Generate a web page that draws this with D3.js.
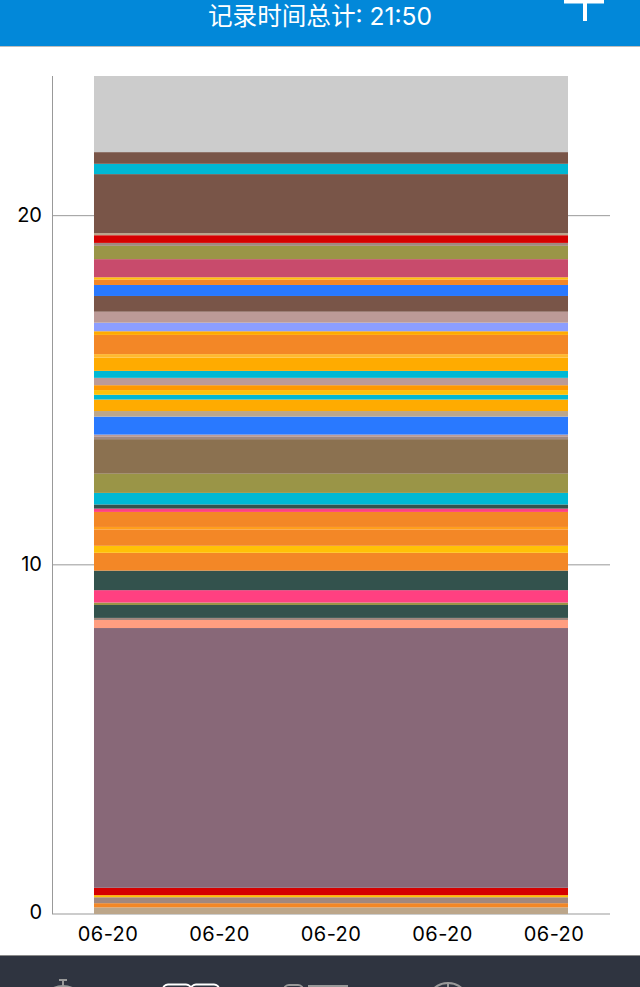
<!DOCTYPE html>
<html>
<head>
<meta charset="utf-8">
<script src="https://cdnjs.cloudflare.com/ajax/libs/d3/7.8.5/d3.min.js"></script>
<style>
  html, body { margin: 0; padding: 0; background: #fff; }
  svg { display: block; }
  text { font-family: Inter, "Noto Sans CJK SC", sans-serif; }
</style>
</head>
<body>
<svg id="chart" width="640" height="987"></svg>
<script>
// hours per band, bottom of the stack first
const bandHours = [
  0.19, 0.12, 0.17, 0.06, 0.21, 7.44, 0.23, 0.06, 0.37, 0.07,
  0.355, 0.56, 0.51, 0.20, 0.47, 0.07, 0.43, 0.095, 0.12, 0.33,
  0.55, 0.99, 0.08, 0.05, 0.515, 0.16, 0.33, 0.135, 0.135, 0.14,
  0.21, 0.20, 0.38, 0.10, 0.55, 0.105, 0.245, 0.315, 0.45, 0.315,
  0.16, 0.06, 0.52, 0.38, 0.085, 0.22, 0.06, 1.69, 0.295, 0.335, 2.18
];
// colour group of each band, same order
const bandGroups = [
  "tan", "orange", "taupe", "yellow", "red", "mauve", "salmon", "taupe", "pine", "olive",
  "pink", "pine", "orange", "yellow", "orange", "lightOrange", "orange", "pink", "pine", "cyan",
  "olive", "khaki", "taupe", "rosy", "blue", "tan", "amber", "cyan", "yellow", "deepAmber",
  "rosy", "cyan", "amber", "lightAmber", "orange", "amber", "periwinkle", "rosy", "brown", "blue",
  "orange", "yellow", "rose", "olive", "taupe", "red", "tan", "brown", "cyan", "brown", "grey"
];
const groupNames = ["tan", "orange", "taupe", "yellow", "red", "mauve", "salmon", "pine", "olive", "pink",
  "lightOrange", "cyan", "khaki", "rosy", "blue", "amber", "deepAmber", "lightAmber", "periwinkle", "brown", "rose", "grey"];
const groupColors = ["#BCA68A", "#F38726", "#A1887F", "#FFC107", "#D50000", "#886878", "#FF9E80", "#33524D", "#9A9547", "#FF4081",
  "#FF9F1C", "#00B8D4", "#8B7150", "#BC9A97", "#2979FF", "#FFAB00", "#FF9800", "#FFB92E", "#8C9EFF", "#795548", "#C84B6C", "#CCCCCC"];

const xTickDays = [0, 1, 2, 3, 4];
const xTickLabel = "06-20";
const yTicks = [0, 10, 20];
const title = "记录时间总计: 21:50";

const svg = d3.select("#chart");
const margin = { left: 52, right: 610, top: 76, bottom: 914 };

const x = d3.scaleLinear().domain([0, 4]).range([108, 554]);
const y = d3.scaleLinear().domain([0, 24]).range([margin.bottom, margin.top]);
const color = d3.scaleOrdinal().domain(groupNames).range(groupColors);

// header
svg.append("rect").attr("width", 640).attr("height", 46).attr("fill", "#0288D9");
svg.append("line").attr("x1", 0).attr("x2", 640).attr("y1", 46.5).attr("y2", 46.5).attr("stroke", "#bdbdbd");
svg.append("text").attr("x", 320).attr("y", 25).attr("text-anchor", "middle")
  .attr("font-size", 24.6).attr("fill", "#fff").text(title);
svg.append("path").attr("d", "M564 1.5H604M585 0V21").attr("stroke", "#fff").attr("stroke-width", 4).attr("fill", "none");

// grid + axis lines
const axisG = svg.append("g");
axisG.selectAll("line.grid").data(yTicks).join("line").attr("class", "grid")
  .attr("x1", margin.left).attr("x2", margin.right)
  .attr("y1", (d) => y(d)).attr("y2", (d) => y(d))
  .attr("stroke", "#999");
axisG.append("line").attr("x1", margin.left + 0.5).attr("x2", margin.left + 0.5)
  .attr("y1", margin.top).attr("y2", margin.bottom).attr("stroke", "#999");

// stacked bar
const stackRow = {};
bandHours.forEach((h, i) => { stackRow[i] = h; });
const series = d3.stack().keys(bandHours.map((_, i) => i))([stackRow]);
svg.append("g").selectAll("rect").data(series).join("rect")
  .attr("x", x(-0.1256))
  .attr("width", x(4.1256) - x(-0.1256))
  .attr("y", (s) => y(s[0][1]))
  .attr("height", (s) => y(s[0][0]) - y(s[0][1]))
  .attr("fill", (s) => color(bandGroups[s.index]));

// tick labels
svg.append("g").selectAll("text").data(yTicks).join("text")
  .attr("x", 42).attr("y", (d) => y(d) + (d === 0 ? 4.5 : 6)).attr("text-anchor", "end")
  .attr("font-size", 20).attr("fill", "#000").text((d) => d);
svg.append("g").selectAll("text").data(xTickDays).join("text")
  .attr("x", (d) => x(d)).attr("y", 941).attr("text-anchor", "middle")
  .attr("font-size", 20).attr("letter-spacing", 0.4).attr("fill", "#000").text(xTickLabel);

// tab bar, cut off at the bottom of the screen
svg.append("rect").attr("y", 955).attr("width", 640).attr("height", 32).attr("fill", "#2F3440");
svg.append("line").attr("x1", 0).attr("x2", 640).attr("y1", 955.5).attr("y2", 955.5).attr("stroke", "#8a8a8a");

const tabIcons = svg.append("g").attr("fill", "none");
// stopwatch
tabIcons.append("path").attr("d", "M59 980H67M63 980V986").attr("stroke", "#999").attr("stroke-width", 2);
tabIcons.append("circle").attr("cx", 63).attr("cy", 1010).attr("r", 25).attr("fill", "#999");
// book
tabIcons.append("rect").attr("x", 163).attr("y", 984.5).attr("width", 28).attr("height", 20).attr("rx", 5)
  .attr("stroke", "#fff").attr("stroke-width", 2);
tabIcons.append("rect").attr("x", 191).attr("y", 984.5).attr("width", 28).attr("height", 20).attr("rx", 5)
  .attr("stroke", "#fff").attr("stroke-width", 2);
// list
tabIcons.append("rect").attr("x", 284).attr("y", 985).attr("width", 19).attr("height", 20).attr("rx", 5)
  .attr("stroke", "#999").attr("stroke-width", 2);
tabIcons.append("rect").attr("x", 308).attr("y", 985).attr("width", 40).attr("height", 4).attr("fill", "#999");
// wheel
tabIcons.append("circle").attr("cx", 448).attr("cy", 1004).attr("r", 21).attr("stroke", "#999").attr("stroke-width", 2);
tabIcons.append("path").attr("d", "M448 983V987").attr("stroke", "#999").attr("stroke-width", 2);
</script>
</body>
</html>
